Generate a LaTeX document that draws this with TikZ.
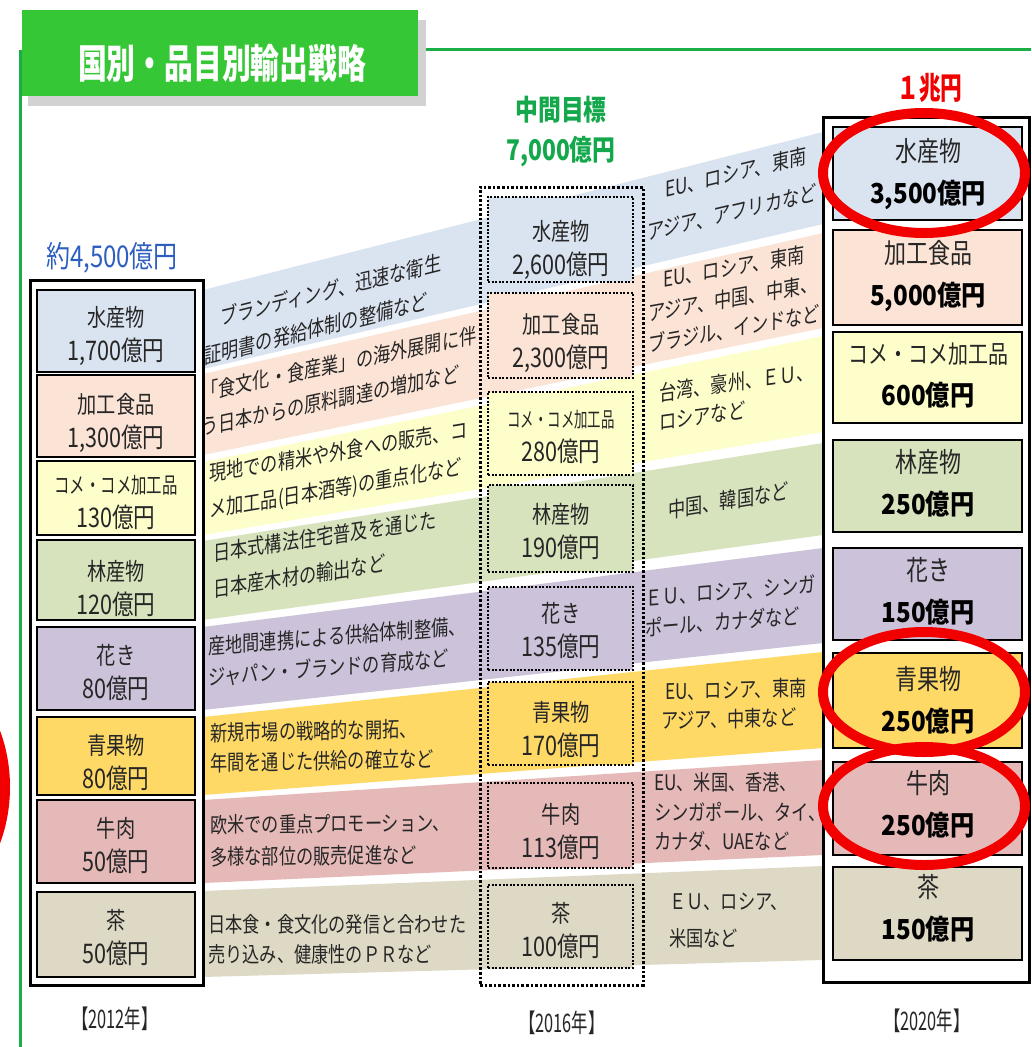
\documentclass[tikz,border=0pt]{standalone}
\usepackage{fontspec}
\newfontfamily\jp[FakeStretch=0.88]{Noto Sans CJK JP}
\newfontfamily\jpa[FakeStretch=0.80]{Noto Sans CJK JP}
\newfontfamily\jpm[FakeStretch=0.70]{Noto Sans CJK JP}
\newfontfamily\jpn[FakeStretch=0.64]{Noto Sans CJK JP}
\newfontfamily\jpt[FakeStretch=0.72]{Noto Sans CJK JP}
\newcommand\amtline[1]{{\jpa\fontsize{27}{34}\selectfont #1}}
\definecolor{c1}{HTML}{DAE3F0}
\definecolor{c2}{HTML}{FBE3D5}
\definecolor{c3}{HTML}{FEFECB}
\definecolor{c4}{HTML}{D7E3BD}
\definecolor{c5}{HTML}{CCC2DA}
\definecolor{c6}{HTML}{FED966}
\definecolor{c7}{HTML}{E5B9B8}
\definecolor{c8}{HTML}{DDD9C4}
\definecolor{txt}{HTML}{262626}
\definecolor{bluec}{HTML}{2E5FC0}
\definecolor{greenc}{HTML}{14A84C}
\definecolor{titlegreen}{HTML}{35C735}
\definecolor{linegreen}{HTML}{19AE48}
\definecolor{redc}{HTML}{F20000}
\begin{document}
\begin{tikzpicture}[x=1pt,y=-1pt,
  lbox/.style={draw=black, line width=2.8, minimum width=158, inner sep=0},
  ltext/.style={inner sep=0, align=center, text=txt, font=\jpa\fontsize{24}{34}\selectfont},
  mbox/.style={draw=black, line width=2, dash pattern=on 2pt off 1.6pt, minimum width=145, inner sep=0},
  mtext/.style={inner sep=0, align=center, text=txt, font=\jpa\fontsize{24}{34}\selectfont},
  rbox/.style={draw=black, line width=2.2, minimum width=189, inner sep=0},
  rtext/.style={inner sep=0, align=center, text=txt, font=\jpa\fontsize{27.5}{42}\selectfont},
  btext/.style={anchor=west, inner sep=0, align=left, text=txt, font=\jpa\fontsize{21.5}{#1}\selectfont},
  btext/.default=33,
  yearlbl/.style={inner sep=0, text=txt, font=\jpn\fontsize{25.5}{25.5}\selectfont},
  redring/.style={draw=redc, line width=10}
]
\useasboundingbox (0,0) rectangle (1031,1047);
\clip (0,0) rectangle (1031,1047);
\fill[white] (0,0) rectangle (1031,1047);

% bands
\fill[c1] (203,290) -- (823,132) -- (823,224) -- (203,369) -- cycle;
\fill[c2] (203,374) -- (823,233) -- (823,328) -- (203,455) -- cycle;
\fill[c3] (203,462) -- (823,336) -- (823,432) -- (203,535) -- cycle;
\fill[c4] (203,541) -- (823,443) -- (823,535) -- (203,620) -- cycle;
\fill[c5] (203,627) -- (823,548) -- (823,643) -- (203,710) -- cycle;
\fill[c6] (203,717) -- (823,652) -- (823,748) -- (203,795) -- cycle;
\fill[c7] (203,800) -- (823,760) -- (823,855) -- (203,883) -- cycle;
\fill[c8] (203,891) -- (823,866) -- (823,960) -- (203,977) -- cycle;

% band texts, left segment
\node[btext=35, yslant=0.25] (t1) at (204,339) {\hspace{16pt}ブランディング、迅速な衛生\\証明書の発給体制の整備など};
\node[btext=35, yslant=0.21] (t2) at (201,410) {「食文化・食産業」の海外展開に伴\\う日本からの原料調達の増加など};
\node[btext=36, yslant=0.17] (t3) at (209,493) {現地での精米や外食への販売、コ\\メ加工品(日本酒等)の重点化など};
\node[btext=36, yslant=0.15] (t4) at (213,571) {日本式構法住宅普及を通じた\\日本産木材の輸出など};
\node[btext=31, yslant=0.08] (t5) at (208,662) {産地間連携による供給体制整備、\\ジャパン・ブランドの育成など};
\node[btext=30, yslant=0.02] (t6) at (210,748) {新規市場の戦略的な開拓、\\年間を通じた供給の確立など};
\node[btext=32, yslant=0.01] (t7) at (210,841) {欧米での重点プロモーション、\\多様な部位の販売促進など};
\node[btext=30] (t8) at (208,939) {日本食・食文化の発信と合わせた\\売り込み、健康性のＰＲなど};

% band texts, right segment
\node[btext=39, yslant=0.24] (u1) at (647,213) {\hspace{18pt}EU、ロシア、東南\\アジア、アフリカなど};
\node[btext=31, yslant=0.18] (u2) at (648,313) {\hspace{15pt}EU、ロシア、東南\\アジア、中国、中東、\\ブラジル、インドなど};
\node[btext=29, yslant=0.14] (u3) at (659,407) {台湾、豪州、ＥＵ、\\ロシアなど};
\node[btext, yslant=0.16] (u4) at (668,510) {中国、韓国など};
\node[btext=30, yslant=0.08] (u5) at (645,613) {ＥＵ、ロシア、シンガ\\ポール、カナダなど};
\node[btext=29, yslant=0.025] (u6) at (661,706) {\hspace{4pt}EU、ロシア、東南\\アジア、中東など};
\node[btext=29.5] (u7) at (654,812) {EU、米国、香港、\\シンガポール、タイ、\\カナダ、UAEなど};
\node[btext=37] (u8) at (669,921) {ＥＵ、ロシア、\\米国など};

% left column 2012
\node[draw=black, line width=3, minimum width=173, minimum height=705, inner sep=0] (col12) at (116.5,632.5) {};
\node[lbox, fill=c1, minimum height=82] (L1) at (116,331) {};
\node[lbox, fill=c2, minimum height=82] (L2) at (116,416) {};
\node[lbox, fill=c3, minimum height=74] (L3) at (116,498) {};
\node[lbox, fill=c4, minimum height=80] (L4) at (116,580) {};
\node[lbox, fill=c5, minimum height=83] (L5) at (116,668.5) {};
\node[lbox, fill=c6, minimum height=78] (L6) at (116,756) {};
\node[lbox, fill=c7, minimum height=83] (L7) at (116,841.5) {};
\node[lbox, fill=c8, minimum height=85] (L8) at (116,934.5) {};
\node[ltext] (Lt1) at (116,335.5) {水産物\\\amtline{1,700億円}};
\node[ltext] (Lt2) at (116,422.5) {加工食品\\\amtline{1,300億円}};
\node[ltext] (Lt3) at (116,502) {{\jpm\fontsize{22}{34}\selectfont コメ・コメ加工品}\\\amtline{130億円}};
\node[ltext] (Lt4) at (116,588.5) {林産物\\\amtline{120億円}};
\node[ltext] (Lt5) at (116,672.5) {花き\\\amtline{80億円}};
\node[ltext] (Lt6) at (116,762.5) {青果物\\\amtline{80億円}};
\node[ltext] (Lt7) at (116,845.5) {牛肉\\\amtline{50億円}};
\node[ltext] (Lt8) at (116,937.5) {茶\\\amtline{50億円}};

% middle column 2016
\node[draw=black, line width=3, dash pattern=on 2.6pt off 2pt, minimum width=163, minimum height=798, inner sep=0] (col16) at (561.5,586) {};
\node[mbox, fill=c1, minimum height=85] (M1) at (560.5,239.5) {};
\node[mbox, fill=c2, minimum height=85] (M2) at (560.5,335.5) {};
\node[mbox, fill=c3, minimum height=83] (M3) at (560.5,433.5) {};
\node[mbox, fill=c4, minimum height=87] (M4) at (560.5,528.5) {};
\node[mbox, fill=c5, minimum height=83] (M5) at (560.5,628.5) {};
\node[mbox, fill=c6, minimum height=83] (M6) at (560.5,723.5) {};
\node[mbox, fill=c7, minimum height=85] (M7) at (560.5,825.5) {};
\node[mbox, fill=c8, minimum height=83] (M8) at (560.5,926.5) {};
\node[mtext] (Mt1) at (561,250) {水産物\\\amtline{2,600億円}};
\node[mtext] (Mt2) at (561,343) {加工食品\\\amtline{2,300億円}};
\node[mtext] (Mt3) at (561,437) {{\jpn\fontsize{21}{34}\selectfont コメ・コメ加工品}\\\amtline{280億円}};
\node[mtext] (Mt4) at (561,531) {林産物\\\amtline{190億円}};
\node[mtext] (Mt5) at (561,631) {花き\\\amtline{135億円}};
\node[mtext] (Mt6) at (561,730) {青果物\\\amtline{170億円}};
\node[mtext] (Mt7) at (561,832) {牛肉\\\amtline{113億円}};
\node[mtext] (Mt8) at (561,931) {茶\\\amtline{100億円}};

% right column 2020
\node[draw=black, fill=white, line width=3, minimum width=206, minimum height=865, inner sep=0] (col20) at (926,549.5) {};
\node[rbox, fill=c1, minimum height=93] (R1) at (927.5,173.5) {};
\node[rbox, fill=c2, minimum height=95] (R2) at (927.5,277.5) {};
\node[rbox, fill=c3, minimum height=91] (R3) at (927.5,377.5) {};
\node[rbox, fill=c4, minimum height=92] (R4) at (927.5,486) {};
\node[rbox, fill=c5, minimum height=92] (R5) at (927.5,594) {};
\node[rbox, fill=c6, minimum height=95] (R6) at (927.5,700.5) {};
\node[rbox, fill=c7, minimum height=93] (R7) at (927.5,808.5) {};
\node[rbox, fill=c8, minimum height=93] (R8) at (927.5,913.5) {};
\node[rtext] (Rt1) at (928,174) {水産物\\{\jp\bfseries\color{black}3,500億円}};
\node[rtext] (Rt2) at (928,276) {加工食品\\{\jp\bfseries\color{black}5,000億円}};
\node[rtext] (Rt3) at (928,375) {{\fontsize{25}{42}\selectfont コメ・コメ加工品}\\{\jp\bfseries\color{black}600億円}};
\node[rtext] (Rt4) at (928,483.5) {林産物\\{\jp\bfseries\color{black}250億円}};
\node[rtext] (Rt5) at (928,591) {花き\\{\jp\bfseries\color{black}150億円}};
\node[rtext] (Rt6) at (928,700) {青果物\\{\jp\bfseries\color{black}250億円}};
\node[rtext] (Rt7) at (928,804) {牛肉\\{\jp\bfseries\color{black}250億円}};
\node[rtext] (Rt8) at (928,908.5) {茶\\{\jp\bfseries\color{black}150億円}};

% headers
\node[inner sep=0, text=bluec, font=\jpa\fontsize{30}{30}\selectfont] (total12) at (112,258) {約4,500億円};
\node[inner sep=0, text=greenc, align=center, font=\jpa\bfseries\fontsize{28.5}{40}\selectfont] (mid16) at (561,132) {中間目標\\7,000億円};
\node[inner sep=0, text=redc, font=\jpm\bfseries\fontsize{31}{31}\selectfont] (goal20) at (930,88) {１兆円};

% years
\node[yearlbl] (y12) at (115,1019) {【2012年】};
\node[yearlbl] (y16) at (562,1023) {【2016年】};
\node[yearlbl] (y20) at (927,1021) {【2020年】};

% title
\draw[linegreen, line width=3] (20,50) -- (20,1047);
\draw[linegreen, line width=3] (418,49) -- (1031,49);
\fill[gray!35] (28,20) rectangle (426,106);
\node[fill=titlegreen, minimum width=396, minimum height=86, inner sep=0] (title) at (220,53) {};
\node[inner sep=0, text=white, font=\jpt\bfseries\fontsize{40}{40}\selectfont] (titletext) at (222,63) {国別・品目別輸出戦略};

% red rings
\draw[redring] (924,173) ellipse [x radius=101pt, y radius=60pt];
\draw[redring] (924,692) ellipse [x radius=101pt, y radius=60pt];
\draw[redring] (924,806) ellipse [x radius=101pt, y radius=59pt];
\draw[redring] (-100,787) ellipse [x radius=105pt, y radius=130pt];
\end{tikzpicture}
\end{document}
